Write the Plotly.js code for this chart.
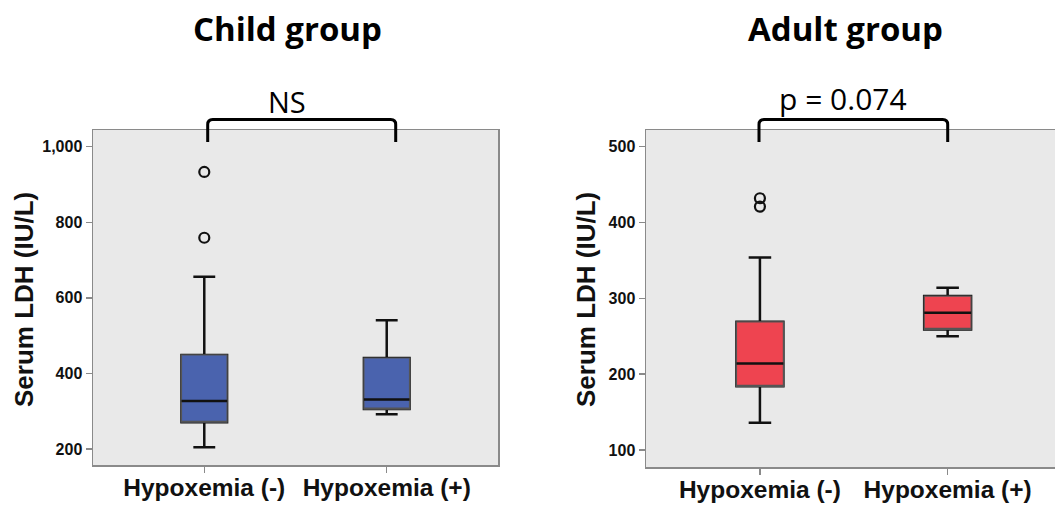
<!DOCTYPE html>
<html>
<head>
<meta charset="utf-8">
<script src="https://cdn.plot.ly/plotly-3.0.1.min.js"></script>
<style>html,body{margin:0;padding:0;background:#fff;}#chart{width:1055px;height:506px;}</style>
</head>
<body>
<div id="chart"></div>
<script>
// ---- data ----
const categories = ['Hypoxemia (-)', 'Hypoxemia (+)'];

const childLower  = [205, 292];
const childQ1     = [271, 306];
const childMedian = [327, 331];
const childQ3     = [449, 441];
const childUpper  = [656, 541];
const childOutlierCats = ['Hypoxemia (-)', 'Hypoxemia (-)'];
const childOutliers    = [933, 759];

const adultLower  = [136, 250];
const adultQ1     = [184, 259];
const adultMedian = [214, 281];
const adultQ3     = [269, 303];
const adultUpper  = [354, 314];
const adultOutlierCats = ['Hypoxemia (-)', 'Hypoxemia (-)'];
const adultOutliers    = [432, 421];

const childTicks = [200, 400, 600, 800, 1000];
const childTickText = ['200', '400', '600', '800', '1,000'];
const adultTicks = [100, 200, 300, 400, 500];
const adultTickText = ['100', '200', '300', '400', '500'];

// ---- layout helpers ----
const W = 1055, H = 506;
const px = v => v / W;
const py = v => 1 - v / H;

const boxCommon = {
  type: 'box', boxpoints: false, width: 0.25, whiskerwidth: 0.48,
  hoverinfo: 'skip', showlegend: false
};

// Builds the layered box: black whiskers, filled box with thin grey outline, thick black median
function boxLayers(q1, med, q3, lo, hi, fill, xa, ya) {
  return [
    Object.assign({}, boxCommon, {
      x: categories, q1: q1, median: med, q3: q3, lowerfence: lo, upperfence: hi,
      fillcolor: fill, line: {color: '#111', width: 2.5}, xaxis: xa, yaxis: ya
    }),
    Object.assign({}, boxCommon, {
      x: categories, q1: q1, median: q1, q3: q3, lowerfence: q1, upperfence: q3,
      fillcolor: fill, line: {color: '#555', width: 1.2}, xaxis: xa, yaxis: ya
    }),
    Object.assign({}, boxCommon, {
      x: categories, q1: med, median: med, q3: med, lowerfence: med, upperfence: med,
      fillcolor: 'rgba(0,0,0,0)', line: {color: '#111', width: 2.5}, xaxis: xa, yaxis: ya
    })
  ];
}

const outlierMarker = {symbol: 'circle-open', size: 10, color: '#111', line: {width: 2.2, color: '#111'}};

const traces = [].concat(
  boxLayers(childQ1, childMedian, childQ3, childLower, childUpper, '#4a63ae', 'x', 'y'),
  [{type: 'scatter', mode: 'markers', x: childOutlierCats, y: childOutliers, marker: outlierMarker,
    xaxis: 'x', yaxis: 'y', showlegend: false, hoverinfo: 'skip'}],
  boxLayers(adultQ1, adultMedian, adultQ3, adultLower, adultUpper, '#ee4450', 'x2', 'y2'),
  [{type: 'scatter', mode: 'markers', x: adultOutlierCats, y: adultOutliers, marker: outlierMarker,
    xaxis: 'x2', yaxis: 'y2', showlegend: false, hoverinfo: 'skip'}]
);

const tickFontX = {family: 'Liberation Sans, Arial, sans-serif', size: 24.5, color: '#111', weight: 'bold'};
const tickFontY = {family: 'Liberation Sans, Arial, sans-serif', size: 16, color: '#111', weight: 'bold'};

const xCommon = {
  type: 'category', showline: true, mirror: true, linecolor: '#8a8a8a', linewidth: 1.5,
  ticks: 'outside', ticklen: 6, tickcolor: '#8a8a8a', tickwidth: 1.5,
  ticklabelstandoff: -6,
  showgrid: false, zeroline: false, tickfont: tickFontX, fixedrange: true
};
const yCommon = {
  showline: true, mirror: true, linecolor: '#8a8a8a', linewidth: 1.5,
  ticks: 'outside', ticklen: 6, tickcolor: '#8a8a8a', tickwidth: 1.5,
  showgrid: false, zeroline: false, tickfont: tickFontY, fixedrange: true
};

function bracket(x0, x1, yTop, yBot) {
  const rx = 5 / W, ry = 5 / H;
  const a = px(x0), b = px(x1), t = py(yTop), bt = py(yBot);
  return {
    type: 'path', xref: 'paper', yref: 'paper',
    path: `M ${a},${bt} L ${a},${t - ry} Q ${a},${t} ${a + rx},${t} L ${b - rx},${t} Q ${b},${t} ${b},${t - ry} L ${b},${bt}`,
    line: {color: '#000', width: 3}
  };
}

const layout = {
  width: W, height: H,
  margin: {l: 0, r: 0, t: 0, b: 0},
  paper_bgcolor: '#ffffff',
  plot_bgcolor: '#e9e9e9',
  showlegend: false,
  boxmode: 'overlay',
  xaxis: Object.assign({}, xCommon, {domain: [px(93), px(498)], range: [-0.61, 1.61], anchor: 'y'}),
  yaxis: Object.assign({}, yCommon, {domain: [py(465), py(130)], range: [158, 1044],
    tickvals: childTicks, ticktext: childTickText, anchor: 'x'}),
  xaxis2: Object.assign({}, xCommon, {domain: [px(646), 1], range: [-0.607, 1.572], anchor: 'y2'}),
  yaxis2: Object.assign({}, yCommon, {domain: [py(467), py(130)], range: [77.6, 522],
    tickvals: adultTicks, ticktext: adultTickText, anchor: 'x2'}),
  shapes: [
    bracket(207.7, 395.7, 119.5, 142),
    bracket(759, 947.7, 119.5, 142)
  ],
  annotations: [
    {text: 'Child group', xref: 'paper', yref: 'paper', x: px(287), y: py(28), showarrow: false,
     xanchor: 'center', yanchor: 'middle',
     font: {family: 'Open Sans, Noto Sans, sans-serif', size: 33, color: '#000', weight: 'bold'}},
    {text: 'Adult group', xref: 'paper', yref: 'paper', x: px(845), y: py(28), showarrow: false,
     xanchor: 'center', yanchor: 'middle',
     font: {family: 'Open Sans, Noto Sans, sans-serif', size: 33, color: '#000', weight: 'bold'}},
    {text: 'NS', xref: 'paper', yref: 'paper', x: px(287), y: py(102), showarrow: false,
     xanchor: 'center', yanchor: 'middle',
     font: {family: 'Open Sans, Noto Sans, sans-serif', size: 29, color: '#000'}},
    {text: 'p = 0.074', xref: 'paper', yref: 'paper', x: px(842.5), y: py(99), showarrow: false,
     xanchor: 'center', yanchor: 'middle',
     font: {family: 'Open Sans, Noto Sans, sans-serif', size: 30, color: '#000'}},
    {text: 'Serum LDH (IU/L)', xref: 'paper', yref: 'paper', x: px(24), y: py(300), showarrow: false,
     textangle: -90, xanchor: 'center', yanchor: 'middle',
     font: {family: 'Liberation Sans, Arial, sans-serif', size: 26, color: '#111', weight: 'bold'}},
    {text: 'Serum LDH (IU/L)', xref: 'paper', yref: 'paper', x: px(586), y: py(300), showarrow: false,
     textangle: -90, xanchor: 'center', yanchor: 'middle',
     font: {family: 'Liberation Sans, Arial, sans-serif', size: 26, color: '#111', weight: 'bold'}}
  ]
};

Plotly.newPlot('chart', traces, layout, {staticPlot: true, displayModeBar: false});
</script>
</body>
</html>
